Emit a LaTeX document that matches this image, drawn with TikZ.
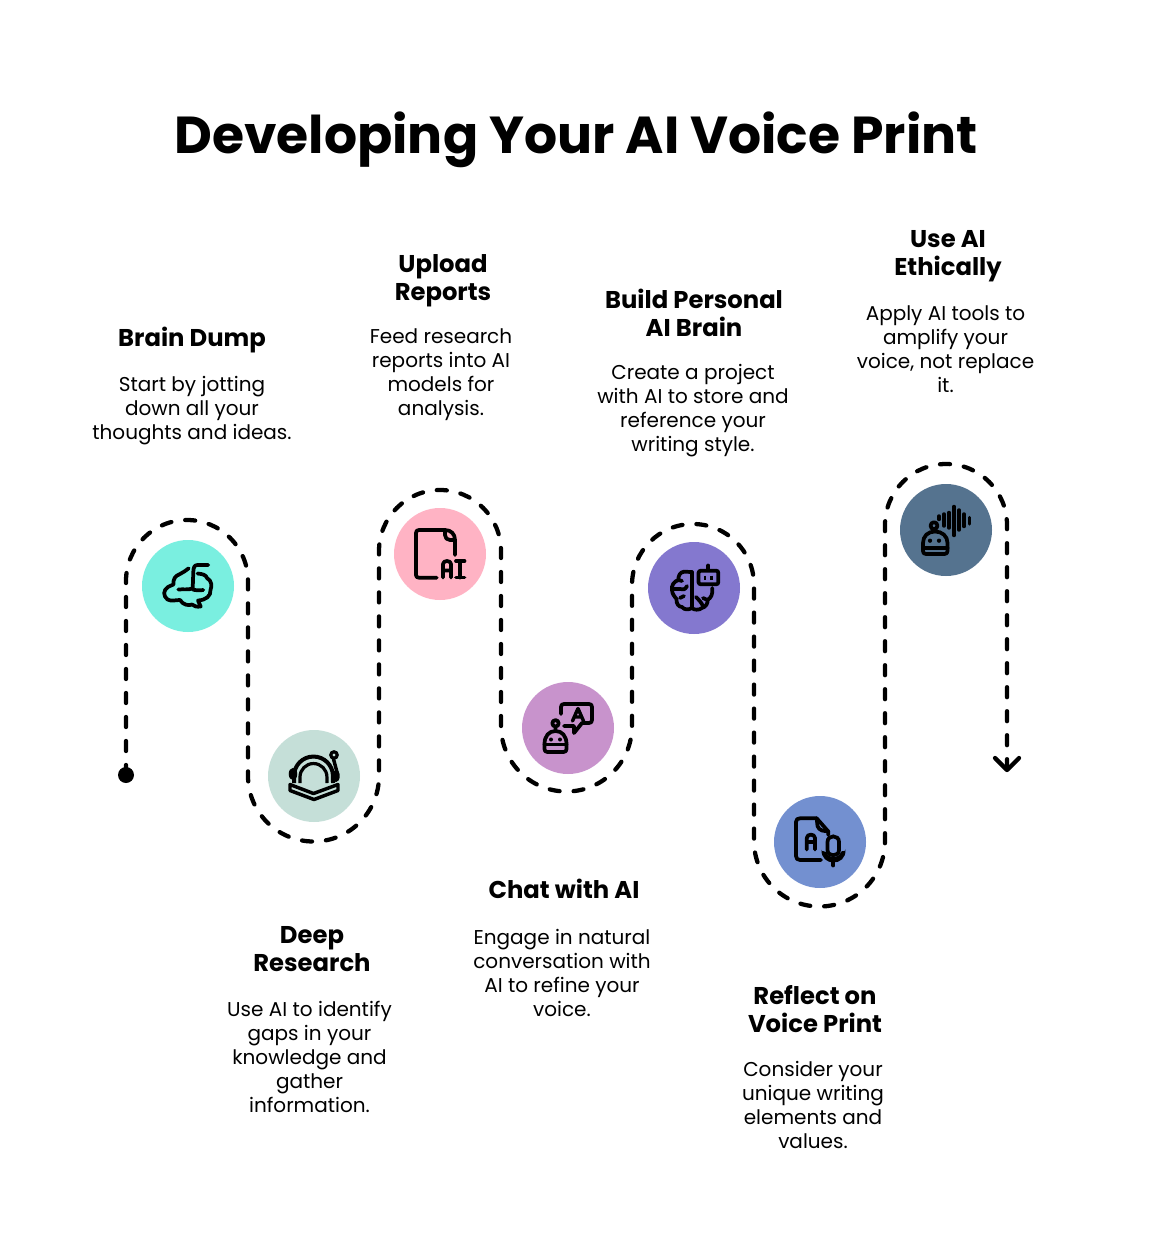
\documentclass[tikz,border=0pt]{standalone}
\usepackage{fontspec}
\setmainfont{Poppins}
\usetikzlibrary{calc}
\definecolor{cA}{HTML}{7AEFE0}
\definecolor{cB}{HTML}{C5DFD8}
\definecolor{cC}{HTML}{FFB3C4}
\definecolor{cD}{HTML}{C893CC}
\definecolor{cE}{HTML}{8478CF}
\definecolor{cF}{HTML}{7390D0}
\definecolor{cG}{HTML}{55738F}
\tikzset{
 x=0.75pt,y=-0.75pt,
 disc/.style={circle,minimum size=69pt,inner sep=0pt,draw=none},
 titletext/.style={inner sep=0pt,font=\fontsize{39pt}{46pt}\selectfont\bfseries},
 headtext/.style={inner sep=0pt,align=center,font=\fontsize{18.2pt}{21pt}\selectfont\bfseries},
 bodytext/.style={inner sep=0pt,align=center,font=\fontsize{15pt}{18pt}\selectfont},
 trail/.style={line width=3.2pt,dash pattern=on 7.5pt off 10.5pt,line cap=round},
 ico/.style={line width=2.8pt,line cap=round,line join=round},
}
\begin{document}
\begin{tikzpicture}
\useasboundingbox (0,0) rectangle (1152,1248);
\fill[white] (0,0) rectangle (1152,1248);

\node[titletext] (title) at (576,140) {Developing Your AI Voice Print};

% trail
\node[circle,fill=black,minimum size=12pt,inner sep=0pt] (start) at (126,775) {};
\coordinate (finish) at (1007,770);
\draw[trail] (start.center) -- (126,581)
  arc[start angle=180,end angle=0,radius=45.75pt] -- (248,776)
  arc[start angle=180,end angle=360,radius=49.125pt] -- (379,551)
  arc[start angle=180,end angle=0,radius=45.75pt] -- (501,726)
  arc[start angle=180,end angle=360,radius=49.125pt] -- (632,585)
  arc[start angle=180,end angle=0,radius=45.75pt] -- (754,841)
  arc[start angle=180,end angle=360,radius=49.125pt] -- (885,525)
  arc[start angle=180,end angle=0,radius=45.75pt] -- (finish);
\draw[line width=3.2pt,line cap=round,line join=round] (995,758) -- (finish) -- (1019,758);

% discs
\node[disc,fill=cA] (d1) at (188,586) {};
\node[disc,fill=cB] (d2) at (314,776) {};
\node[disc,fill=cC] (d3) at (440,554) {};
\node[disc,fill=cD] (d4) at (568,728) {};
\node[disc,fill=cE] (d5) at (694,588) {};
\node[disc,fill=cF] (d6) at (820,842) {};
\node[disc,fill=cG] (d7) at (946,530) {};

% icon 1: brain
\draw[ico] (208.3,565) -- (197.5,565) .. controls (194,565) and (193.5,568) .. (193.3,572) -- (192.7,588.5) .. controls (188,590) and (183,589) .. (178.3,589.5);
\draw[ico] (197.5,573.5) .. controls (203,574) and (206,575) .. (207,578) .. controls (212,581) and (212,586) .. (210.5,590) .. controls (211,596) and (206,600) .. (198,600.5) -- (200.7,606.5) .. controls (197,607) and (194,606.5) .. (192,604.5) .. controls (189,606) and (183,605) .. (180,600) .. controls (176,600) and (171,601.5) .. (167.5,599.5) .. controls (163,596) and (163,590) .. (168,587) .. controls (170,586) and (172,585) .. (173.5,584.5) .. controls (173,579) and (175,576) .. (180,574) .. controls (183,572) and (186,571) .. (188.7,568.3);
\draw[ico] (192.7,589.5) .. controls (196,590.5) and (200,590.5) .. (203.3,590);

% icon 2: book and headset
\draw[line width=3pt,line cap=butt] (294,783) -- (294,776) arc[start angle=180,end angle=0,radius=14.6pt] -- (333,783);
\draw[line width=2.4pt,line cap=butt] (300,783) -- (300,777) arc[start angle=180,end angle=0,radius=10.1pt] -- (327,783);
\fill (293,774) ellipse[x radius=3.2pt,y radius=4.6pt];
\fill (336,776) ellipse[x radius=2.8pt,y radius=4.6pt];
\draw[line width=2.6pt,line join=round,line cap=round] (290,784.5) -- (313.5,793.5) -- (338,784.5) -- (338,790.5) -- (314,799.5) -- (290,790.5) -- cycle;
\draw[line width=2.6pt,line cap=round] (333.5,759) -- (337.5,774);
\draw[line width=2.4pt] (334,755) circle[radius=2.4pt];

% icon 3: document AI
\draw[ico] (436.7,577.7) -- (419,577.7) .. controls (417,577.7) and (416,576.7) .. (416,575) -- (416,533) .. controls (416,531) and (417,530) .. (419,530) -- (445,530) .. controls (451,530) and (455,534) .. (455,540) -- (455,555);
\draw[ico] (445,530) -- (445,535) .. controls (445,538) and (447,540) .. (450,540) -- (455,540);
\draw[ico] (443,577.5) -- (443,564) .. controls (443,560) and (451,560) .. (451,564) -- (451,577.5) (443,570.5) -- (451,570.5);
\draw[ico] (456,561) -- (464.5,561) (460.2,561) -- (460.2,577.5) (456,577.5) -- (464.5,577.5);

% icon 4: robot with speech bubble
\draw[ico] (561,714) -- (561,707) .. controls (561,705) and (562,704) .. (564,704) -- (589,704) .. controls (591,704) and (592,705) .. (592,707) -- (592,720) .. controls (592,722) and (591,723) .. (589,723) -- (582,723) -- (574,733) -- (574,726) -- (564,726);
\draw[line width=2.6pt,line join=round,line cap=round] (572.5,721) -- (578,708.5) -- (583.5,721) (574.5,717) -- (581.5,717);
\draw[ico] (555.5,723.3) circle[radius=2.4pt];
\draw[ico] (555.5,728) -- (555.5,731) (544.5,744) .. controls (544.5,736) and (549,731) .. (555.5,731) .. controls (562,731) and (566.5,736) .. (566.5,744) -- (566.5,749) .. controls (566.5,751) and (565.5,752) .. (563.5,752) -- (547.5,752) .. controls (545.5,752) and (544.5,751) .. (544.5,749) -- cycle;
\draw[ico] (544.5,744.5) -- (566.5,744.5);
\fill (551,739.5) circle[radius=1.5pt] (560,739.5) circle[radius=1.5pt];

% icon 5: brain with robot head
\draw[ico] (691.7,572) -- (691.7,608);
\draw[ico] (691.7,572) -- (684,571.7) .. controls (680,572) and (678,576) .. (678.5,580) .. controls (674,581) and (671,586) .. (672,590) .. controls (672,594) and (675,597) .. (676.5,599) .. controls (676,604) and (679,607) .. (682,607) .. controls (684,610) and (689,610) .. (691.7,608) .. controls (694,610) and (699,610.5) .. (702,608) .. controls (706,607) and (708,603) .. (707.5,600) .. controls (711,598) and (713,594) .. (712.3,588);
\draw[ico] (672,589) -- (680,589) (680,589) .. controls (683,590) and (685,590) .. (687,586);
\draw[ico] (678.5,580) -- (682,581);
\draw[ico] (680,598) -- (684,596);
\draw[ico] (696,597) .. controls (699,600) and (701,602) .. (703,606);
\draw[ico] (707.5,600) -- (703,598);
\draw[ico] (701,570.7) -- (716,570.7) .. controls (717.5,570.7) and (718.3,571.5) .. (718.3,573) -- (718.3,582) .. controls (718.3,583.5) and (717.5,584.3) .. (716,584.3) -- (701,584.3) .. controls (699.5,584.3) and (698.5,583.5) .. (698.5,582) -- (698.5,573) .. controls (698.5,571.5) and (699.5,570.7) .. (701,570.7) -- cycle;
\draw[ico] (708.3,565.5) -- (708.3,570);
\draw[line width=2pt] (705,575.5) -- (705,579.5) (711.5,575.5) -- (711.5,579.5);

% icon 6: document with microphone
\draw[ico] (821,860) -- (800,860) .. controls (797.5,860) and (796,858.5) .. (796,856) -- (796,822) .. controls (796,819.5) and (797.5,818.3) .. (800,818.3) -- (816.7,818.3) -- (828.3,831.5) -- (828.3,835);
\draw[ico] (816.7,818.3) -- (817.5,826) .. controls (818,828) and (820,830) .. (822,830.5) -- (828.3,831.5);
\draw[ico] (806.8,849.5) -- (806.8,838) .. controls (806.8,833.5) and (815,833.5) .. (815,838) -- (815,849.5) (806.8,842) -- (815,842);
\draw[line width=2.8pt] (827.5,842) .. controls (827.5,834.5) and (839,834.5) .. (839,842) -- (839,850) .. controls (839,857) and (827.5,857) .. (827.5,850) -- cycle;
\fill (821.5,849.5) .. controls (822,853) and (824,849.5) .. (826,852) .. controls (829,859) and (838,859) .. (841,852) .. controls (842,849.5) and (844.5,853) .. (845.5,849.5) .. controls (846,858) and (840,862.5) .. (833.5,862.5) .. controls (827,862.5) and (821,858) .. (821.5,849.5) -- cycle;
\draw[ico] (833.3,861) -- (833.3,865.5);

% icon 7: robot with sound wave
\foreach \bx/\bt/\bb in {939/516/519.5,944/514/526,949/512.5/528,954/506.5/535.5,959/510/530,964/514/526.5,969.5/517.5/524}{
  \draw[line width=2.6pt,line cap=round] (\bx,\bt) -- (\bx,\bb);
}
\draw[ico] (934,525.7) circle[radius=2.6pt];
\draw[ico] (923,543) .. controls (923,536) and (928,531.5) .. (935,531.5) .. controls (942,531.5) and (947.5,536) .. (947.5,543) -- (947.5,551) .. controls (947.5,553) and (946.5,554) .. (944.5,554) -- (926,554) .. controls (924,554) and (923,553) .. (923,551) -- cycle;
\draw[ico] (923,548) -- (947.5,548);
\fill (930,540.7) circle[radius=1.6pt] (939,540.7) circle[radius=1.6pt];

% texts
\node[headtext] (h1) at (192,340) {Brain Dump};
\node[bodytext] (b1) at (192,411) {Start by jotting\\down all your\\thoughts and ideas.};
\node[headtext] (h2) at (312,949) {Deep\\Research};
\node[bodytext] (b2) at (309.5,1057) {Use AI to identify\\gaps in your\\knowledge and\\gather\\information.};
\node[headtext] (h3) at (443,281) {Upload\\Reports};
\node[bodytext] (b3) at (441,375) {Feed research\\reports into AI\\models for\\analysis.};
\node[headtext] (h4) at (694,313) {Build Personal\\AI Brain};
\node[bodytext] (b4) at (693,411) {Create a project\\with AI to store and\\reference your\\writing style.};
\node[headtext] (h5) at (564,889) {Chat with AI};
\node[bodytext] (b5) at (562,973) {Engage in natural\\conversation with\\AI to refine your\\voice.};
\node[headtext] (h6) at (815,1009) {Reflect on\\Voice Print};
\node[bodytext] (b6) at (813,1105) {Consider your\\unique writing\\elements and\\values.};
\node[headtext] (h7) at (948,256) {Use AI\\Ethically};
\node[bodytext] (b7) at (945.5,349) {Apply AI tools to\\amplify your\\voice, not replace\\it.};
\end{tikzpicture}
\end{document}
